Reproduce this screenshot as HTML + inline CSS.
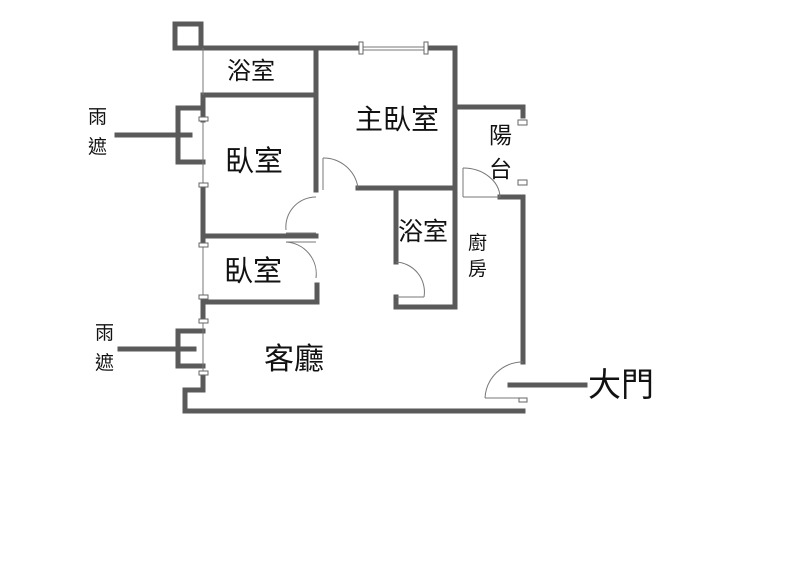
<!DOCTYPE html>
<html><head><meta charset="utf-8"><style>
html,body{margin:0;padding:0;background:#fff;}
svg{display:block}
text{font-family:"Liberation Sans","Noto Sans CJK TC",sans-serif;fill:#111;}
</style></head><body>
<svg width="797" height="575" viewBox="0 0 797 575" xmlns="http://www.w3.org/2000/svg">
<g stroke="#5a5a5a" stroke-width="5" fill="none" stroke-linecap="square">
<polyline points="175,48 175,24 201,24 201,48"/>
<line x1="175" y1="48" x2="360" y2="48"/>
<line x1="427" y1="48" x2="455" y2="48"/>
<line x1="455" y1="48" x2="455" y2="307"/>
<line x1="316" y1="48" x2="316" y2="190"/>
<line x1="203" y1="95" x2="316" y2="95"/>
<line x1="358" y1="188" x2="455" y2="188"/>
<line x1="396" y1="188" x2="396" y2="262"/>
<polyline points="396,297 396,307 455,307"/>
<line x1="203" y1="95" x2="203" y2="120"/>
<line x1="203" y1="185" x2="203" y2="245"/>
<line x1="203" y1="297" x2="203" y2="321"/>
<polyline points="203,373 203,390 185,390 185,411 523,411"/>
<line x1="203" y1="236" x2="316" y2="236"/>
<polyline points="208,302 317,302 317,285"/>
<polyline points="203,108 178,108 178,162 203,162"/>
<line x1="117" y1="135" x2="190" y2="135"/>
<polyline points="203,331 178,331 178,366 203,366"/>
<line x1="120" y1="349" x2="194" y2="349"/>
<polyline points="455,107 523,107 523,116"/>
<polyline points="500,197 523,197 523,362"/>
<line x1="510" y1="385" x2="585" y2="385"/>
</g>
<g stroke="#777" stroke-width="1" fill="none">
<line x1="203" y1="48" x2="203" y2="95"/>
<line x1="203" y1="120" x2="203" y2="185"/>
<line x1="203" y1="245" x2="203" y2="297"/>
<line x1="203" y1="321" x2="203" y2="373"/>
<line x1="360" y1="47" x2="427" y2="47"/>
<line x1="360" y1="50" x2="427" y2="50"/>
<path d="M323,158 A35,35 0 0 1 358,188"/><line x1="323" y1="158" x2="323" y2="190"/>
<path d="M286,230 A30,30 0 0 1 316,197"/><line x1="286" y1="233" x2="316" y2="233"/>
<path d="M286,242 A32,32 0 0 1 316,278"/><line x1="286" y1="242" x2="316" y2="242"/>
<path d="M396,262 A30,30 0 0 1 424,297"/><line x1="396" y1="297" x2="424" y2="297"/>
<path d="M463,168 A37,30 0 0 1 500,197"/><line x1="463" y1="168" x2="463" y2="197"/><line x1="463" y1="197" x2="500" y2="197"/>
<path d="M523,362 A38,38 0 0 0 485,398"/><line x1="485" y1="398" x2="523" y2="398"/>
</g>
<g fill="#fff" stroke="#666" stroke-width="1">
<rect x="359" y="42" width="4" height="12"/><rect x="424" y="42" width="4" height="12"/>
<rect x="199" y="117" width="9" height="4"/><rect x="199" y="183" width="9" height="4"/>
<rect x="199" y="243" width="9" height="4"/><rect x="199" y="295" width="9" height="4"/>
<rect x="199" y="319" width="9" height="4"/><rect x="199" y="371" width="9" height="4"/>
<rect x="518" y="120" width="9" height="5"/><rect x="518" y="180" width="9" height="5"/>
<rect x="519" y="398" width="8" height="4"/>
</g>
<text x="227" y="79" font-size="24">浴室</text>
<text x="355" y="129" font-size="28">主臥室</text>
<text x="489" y="143" font-size="23">陽</text>
<text x="489" y="177" font-size="23">台</text>
<text x="225" y="171" font-size="29">臥室</text>
<text x="398" y="240" font-size="25">浴室</text>
<text x="468" y="249" font-size="19">廚</text>
<text x="468" y="275" font-size="19">房</text>
<text x="224" y="281" font-size="29">臥室</text>
<text x="264" y="369" font-size="30">客廳</text>
<text x="588" y="396" font-size="33">大門</text>
<text x="88" y="123" font-size="19">雨</text>
<text x="88" y="153" font-size="19">遮</text>
<text x="95" y="339" font-size="19">雨</text>
<text x="95" y="369" font-size="19">遮</text>
</svg>
</body></html>
